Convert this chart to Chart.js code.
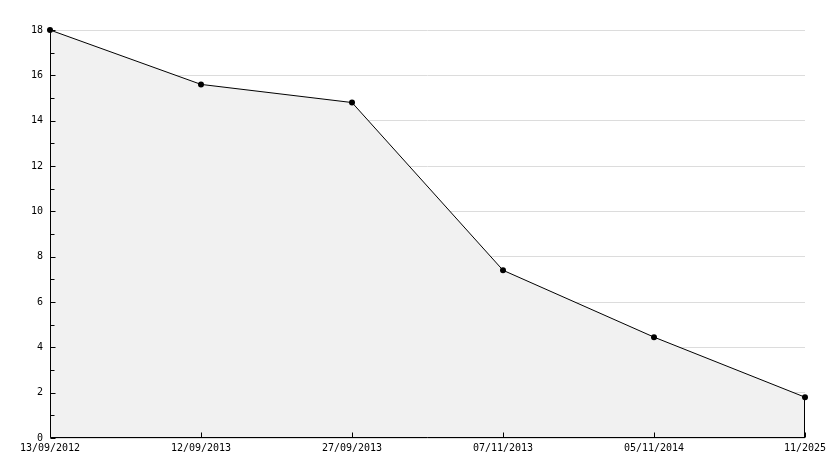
<!DOCTYPE html>
<html>
<head>
<meta charset="utf-8">
<script src="https://cdn.jsdelivr.net/npm/chart.js@4.4.1/dist/chart.umd.min.js"></script>
<style>
    html, body { margin: 0; padding: 0; background: #fff; }
    #wrap { width: 834px; height: 468px; }
</style>
</head>
<body>
<div id="wrap"><canvas id="chart"></canvas></div>
<script>
const dateLabels = ['13/09/2012', '12/09/2013', '27/09/2013', '07/11/2013', '05/11/2014', '11/2025'];
const values = [18, 15.6, 14.8, 7.4, 4.45, 1.8];
const yMin = 0;
const yMax = 18;

// axis lines and tick marks drawn on top of the fill, plus the closing edge of the area
const innerTicks = {
    id: 'innerTicks',
    afterDatasetsDraw(chart) {
        const ctx = chart.ctx;
        const x = chart.scales.x;
        const y = chart.scales.y;
        const area = chart.chartArea;
        const left = Math.round(area.left) + 0.5;
        const bottom = Math.round(area.bottom) - 0.5;
        ctx.save();
        ctx.strokeStyle = '#000';
        ctx.lineWidth = 1;
        ctx.beginPath();
        ctx.moveTo(left, area.top);
        ctx.lineTo(left, bottom);
        ctx.lineTo(area.right, bottom);
        y.ticks.forEach((t, i) => {
            const py = Math.round(y.getPixelForTick(i)) + 0.5;
            const len = t.value % 2 === 0 ? 5 : 4;
            ctx.moveTo(left, py);
            ctx.lineTo(left + len, py);
        });
        x.ticks.forEach((t, i) => {
            const px = Math.round(x.getPixelForTick(i)) + 0.5;
            ctx.moveTo(px, bottom);
            ctx.lineTo(px, bottom - 5);
        });
        const meta = chart.getDatasetMeta(0);
        const last = meta.data[meta.data.length - 1];
        const lx = Math.round(last.x) - 0.5;
        ctx.moveTo(lx, last.y);
        ctx.lineTo(lx, bottom);
        ctx.stroke();
        ctx.restore();
    }
};

new Chart(document.getElementById('chart'), {
    type: 'line',
    data: {
        labels: dateLabels,
        datasets: [{
            data: values,
            borderColor: '#000',
            borderWidth: 1,
            backgroundColor: '#f1f1f1',
            fill: 'origin',
            tension: 0,
            clip: false,
            pointRadius: 3,
            pointBackgroundColor: '#000',
            pointBorderColor: '#000',
            pointBorderWidth: 0
        }]
    },
    options: {
        responsive: true,
        maintainAspectRatio: false,
        animation: false,
        events: [],
        layout: { padding: { left: 0, right: 29, top: 30, bottom: 0 } },
        plugins: { legend: { display: false }, tooltip: { enabled: false } },
        scales: {
            x: {
                offset: false,
                grid: { drawOnChartArea: false, drawTicks: false },
                border: { display: false },
                ticks: {
                    color: '#000',
                    font: { family: 'DejaVu Sans Mono', size: 10 },
                    padding: 4,
                    maxRotation: 0,
                    autoSkip: false
                },
                afterFit(scale) { scale.height = 30; }
            },
            y: {
                min: yMin,
                max: yMax,
                grid: {
                    drawTicks: false,
                    color: (c) => (c.tick && c.tick.value % 2 === 0) ? '#dcdcdc' : 'rgba(0,0,0,0)'
                },
                border: { display: false },
                ticks: {
                    stepSize: 1,
                    color: '#000',
                    font: { family: 'DejaVu Sans Mono', size: 10 },
                    padding: 7,
                    callback: (v) => v % 2 === 0 ? v : ''
                },
                afterFit(scale) { scale.width = 50; }
            }
        }
    },
    plugins: [innerTicks]
});
</script>
</body>
</html>
